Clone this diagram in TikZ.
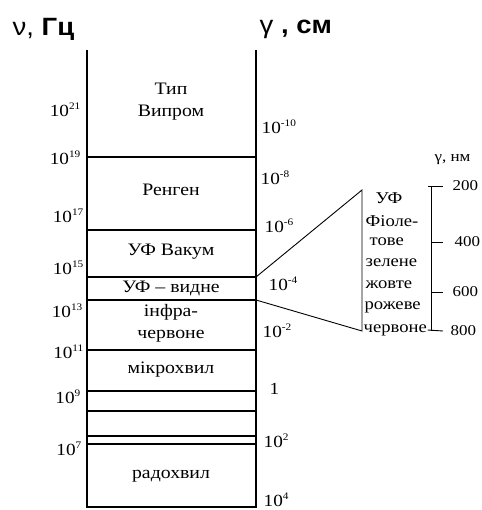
\documentclass[tikz,border=0pt]{standalone}
\usepackage{fontspec}
\setmainfont[FakeStretch=1.13]{Liberation Serif}
\newfontfamily\hsans[FakeStretch=1.1]{Liberation Sans}
\newcommand\pw[2]{#1\raisebox{0.42em}{\fontsize{10}{10}\selectfont #2}}
\begin{document}
\begin{tikzpicture}[x=1pt,y=-1pt,line width=1.3pt,
  boxtxt/.style={font=\fontsize{17.5}{22}\selectfont,inner sep=0pt,align=center},
  num/.style={font=\fontsize{17}{19}\selectfont,inner sep=0pt},
  col/.style={font=\fontsize{16.5}{18}\selectfont,inner sep=0pt,anchor=west},
  scalenum/.style={font=\fontsize{15}{17}\selectfont,inner sep=0pt,anchor=west},
  head/.style={font=\hsans\fontsize{25}{27}\selectfont,inner sep=0pt},
  sep/.style={line width=1.3pt},
  thin/.style={line width=0.9pt}]
\useasboundingbox (0,0) rectangle (481,510);
% headers
\node[head,anchor=west] (hnu) at (12,29) {ν, \textbf{Гц}};
\node[head,anchor=west] (hgam) at (259,29) {γ \textbf{, см}};
% main box
\coordinate (tl) at (87,50); \coordinate (tr) at (256,50);
\coordinate (bl) at (87,507); \coordinate (br) at (256,507);
\draw[sep] (tl) -- (bl) -- (br) -- (tr);
\foreach \y in {157,230,277,300,350,391,411,436,444}
  \draw[sep] (87,\y) -- (256,\y);
% box texts
\node[boxtxt] (t1) at (171,102) {Тип\\Випром};
\node[boxtxt] (t2) at (171,190) {Ренген};
\node[boxtxt] (t3) at (171,252) {УФ Вакум};
\node[boxtxt] (t4) at (171,288) {УФ – видне};
\node[boxtxt] (t5) at (171,323) {інфра-\\червоне};
\node[boxtxt] (t6) at (171,370) {мікрохвил};
\node[boxtxt] (t7) at (171,476) {радохвил};
% left frequency labels
\node[num,anchor=east] (f21) at (81,110) {\pw{10}{21}};
\node[num,anchor=east] (f19) at (81,158) {\pw{10}{19}};
\node[num,anchor=east] (f17) at (84,216) {\pw{10}{17}};
\node[num,anchor=east] (f15) at (84,268) {\pw{10}{15}};
\node[num,anchor=east] (f13) at (83,311) {\pw{10}{13}};
\node[num,anchor=east] (f11) at (84,352) {\pw{10}{11}};
\node[num,anchor=east] (f9) at (81,397) {\pw{10}{9}};
\node[num,anchor=east] (f7) at (82,449) {\pw{10}{7}};
% right wavelength labels
\node[num,anchor=west] (w10) at (261,127) {\pw{10}{-10}};
\node[num,anchor=west] (w8) at (260,178) {\pw{10}{-8}};
\node[num,anchor=west] (w6) at (264,226) {\pw{10}{-6}};
\node[num,anchor=west] (w4) at (268,284) {\pw{10}{-4}};
\node[num,anchor=west] (w2) at (262,331) {\pw{10}{-2}};
\node[num,anchor=west] (w0) at (269,389) {1};
\node[num,anchor=west] (wp2) at (263,441) {\pw{10}{2}};
\node[num,anchor=west] (wp4) at (263,500) {\pw{10}{4}};
% fan
\coordinate (fa) at (256,277); \coordinate (fb) at (256,300);
\coordinate (fc) at (362,190); \coordinate (fd) at (362,331);
\draw[thin] (fa) -- (fc) -- (fd) -- (fb);
% visible colours
\node[col,anchor=center] (c0) at (389,198) {УФ};
\node[col] (c1) at (365,221) {Фіоле-};
\node[col] (c2) at (369,242) {тове};
\node[col] (c3) at (365,263) {зелене};
\node[col] (c4) at (365,285) {жовте};
\node[col] (c5) at (364,307) {рожеве};
\node[col] (c6) at (363,330) {червоне};
% nm scale
\coordinate (s0) at (431,186); \coordinate (s3) at (431,331);
\draw[thin] (s0) -- (s3);
\draw[thin] (428,186) -- (443,186);
\draw[thin] (431,242) -- (443,242);
\draw[thin] (431,292) -- (443,292);
\draw[thin] (c6.east) -- (443,331);
\node[scalenum] (gn) at (434,160) {γ, нм};
\node[scalenum] (n200) at (452,186) {200};
\node[scalenum] (n400) at (454,242) {400};
\node[scalenum] (n600) at (452,292) {600};
\node[scalenum] (n800) at (450,331) {800};
\end{tikzpicture}
\end{document}
